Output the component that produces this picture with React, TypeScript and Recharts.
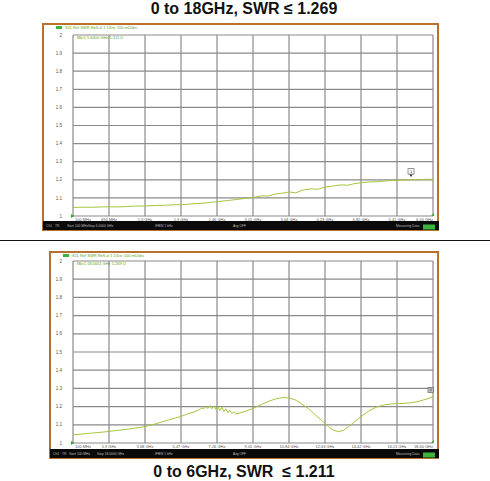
import React from 'react';
import { LineChart, Line, XAxis, YAxis, CartesianGrid, ReferenceDot } from 'recharts';

// ---------- data ----------
const topFreq = [0.10, 0.25, 0.40, 0.55, 0.69, 0.85, 1.00, 1.15, 1.30, 1.45, 1.60, 1.75, 1.90, 2.05, 2.20, 2.35, 2.49, 2.65, 2.80, 2.95, 3.08, 3.20, 3.30, 3.41, 3.55, 3.64, 3.75, 3.85, 4.00, 4.12, 4.23, 4.35, 4.50, 4.60, 4.70, 4.82, 4.95, 5.10, 5.20, 5.30, 5.41, 5.50, 5.64, 5.75, 5.88, 6.00];
const topSwr = [1.047, 1.049, 1.048, 1.050, 1.051, 1.050, 1.053, 1.055, 1.056, 1.058, 1.059, 1.062, 1.063, 1.067, 1.070, 1.075, 1.080, 1.086, 1.092, 1.098, 1.104, 1.112, 1.110, 1.121, 1.127, 1.133, 1.128, 1.142, 1.150, 1.148, 1.160, 1.165, 1.172, 1.170, 1.178, 1.184, 1.188, 1.190, 1.193, 1.196, 1.197, 1.199, 1.201, 1.200, 1.203, 1.202];

const bottomFreq = [0.10, 0.60, 1.10, 1.60, 1.90, 2.40, 2.90, 3.40, 3.68, 4.10, 4.50, 4.90, 5.20, 5.47, 5.80, 6.17, 6.40, 6.50, 6.60, 6.70, 6.80, 6.90, 7.00, 7.10, 7.20, 7.30, 7.40, 7.50, 7.60, 7.70, 7.80, 7.90, 8.00, 8.10, 8.20, 8.40, 8.70, 9.05, 9.40, 9.80, 10.20, 10.55, 10.84, 11.20, 11.60, 11.90, 12.20, 12.50, 12.80, 13.05, 13.30, 13.55, 13.80, 14.05, 14.42, 14.80, 15.20, 15.60, 16.00, 16.21, 16.60, 17.00, 17.40, 17.70, 18.00];
const bottomSwr = [1.045, 1.050, 1.055, 1.060, 1.064, 1.070, 1.077, 1.085, 1.090, 1.102, 1.115, 1.128, 1.138, 1.146, 1.160, 1.172, 1.185, 1.192, 1.188, 1.200, 1.190, 1.205, 1.188, 1.203, 1.184, 1.200, 1.178, 1.196, 1.172, 1.188, 1.166, 1.180, 1.162, 1.172, 1.160, 1.165, 1.175, 1.190, 1.208, 1.228, 1.243, 1.250, 1.248, 1.235, 1.205, 1.180, 1.150, 1.120, 1.090, 1.070, 1.062, 1.070, 1.090, 1.112, 1.145, 1.175, 1.198, 1.210, 1.215, 1.216, 1.218, 1.222, 1.232, 1.242, 1.255];

const topTicks = [0.1, 0.69, 1.28, 1.87, 2.46, 3.05, 3.64, 4.23, 4.82, 5.41, 6.0];
const topTickLabels = ['100 MHz', '690 MHz', '1.3 GHz', '1.9 GHz', '2.46 GHz', '3.05 GHz', '3.64 GHz', '4.23 GHz', '4.82 GHz', '5.41 GHz', '6.00 GHz'];
const bottomTicks = [0.1, 1.89, 3.68, 5.47, 7.26, 9.05, 10.84, 12.63, 14.42, 16.21, 18.0];
const bottomTickLabels = ['100 MHz', '1.9 GHz', '3.68 GHz', '5.47 GHz', '7.26 GHz', '9.05 GHz', '10.84 GHz', '12.63 GHz', '14.42 GHz', '16.21 GHz', '18.00 GHz'];
const swrTicks = [1, 1.1, 1.2, 1.3, 1.4, 1.5, 1.6, 1.7, 1.8, 1.9, 2];
const swrTickLabels = ['1', '1.1', '1.2', '1.3', '1.4', '1.5', '1.6', '1.7', '1.8', '1.9', '2'];

const topMarker = { freq: 5.64, swr: 1.201 };
const bottomMarker = { freq: 18.0, swr: 1.255 };

const topTitle = '0 to 18GHz, SWR \u2264 1.269';
const bottomTitle = '0 to 6GHz, SWR  \u2264 1.211';
const headerText = 'S11 Ref SWR RefLvl 1  1/Div 100 mU/div';
const topMarkerText = 'Mkr1 5.6400 GHz  1.211 U';
const bottomMarkerText = 'Mkr1 18.0001 GHz  1.269 U';

const topData = topFreq.map((f, i) => ({ f, v: topSwr[i] }));
const bottomData = bottomFreq.map((f, i) => ({ f, v: bottomSwr[i] }));

const TRACE = '#a3c73c';
const GRID = '#8a8a8a';
const FONT = '"Liberation Sans", Arial, sans-serif';

const makeXTick = (labels: string[]) => (props: any) => {
  const { x, y, index } = props;
  const anchor = index === 0 ? 'start' : index === labels.length - 1 ? 'end' : 'middle';
  return (
    <text x={x + (index === 0 ? 2 : 0)} y={y - 3} fontSize={4} fontFamily={FONT} fill="#555" textAnchor={anchor}>
      {labels[index]}
    </text>
  );
};

const YTick = (props: any) => {
  const { x, y, index } = props;
  return (
    <text x={x - 3} y={y + 1.6} fontSize={4.5} fontFamily={FONT} fill="#555" textAnchor="end">
      {swrTickLabels[index]}
    </text>
  );
};

const MarkerBox = (props: any) => {
  const { cx, cy } = props;
  return (
    <g>
      <rect x={cx - 3} y={cy - 11} width={6} height={5.5} fill="#fff" stroke="#777" strokeWidth={0.8} />
      <text x={cx} y={cy - 6.8} fontSize={4} fontFamily={FONT} textAnchor="middle" fill="#333">1</text>
      <path d={`M${cx - 1.5},${cy - 5} L${cx + 1.5},${cy - 5} L${cx},${cy - 2.5} Z`} fill="#222" />
    </g>
  );
};

const MarkerBoxEnd = (props: any) => {
  const { cx, cy } = props;
  return (
    <g>
      <rect x={cx - 5} y={cy - 9} width={5.5} height={5} fill="#bbb" stroke="#777" strokeWidth={0.8} />
      <text x={cx - 2.2} y={cy - 5.2} fontSize={4} fontFamily={FONT} textAnchor="middle" fill="#333">1</text>
    </g>
  );
};

const RefArrow = (props: any) => {
  const { cx, cy } = props;
  return <path d={`M${cx - 2},${cy - 2} L${cx + 1.5},${cy} L${cx - 2},${cy + 2} Z`} fill="#2fb02f" />;
};

const EndMark = (props: any) => {
  const { cx, cy } = props;
  return <path d={`M${cx - 2},${cy} L${cx + 1},${cy - 3} L${cx + 1},${cy} Z`} fill="#2fb02f" />;
};

interface PanelProps {
  data: { f: number; v: number }[];
  ticks: number[];
  tickLabels: string[];
  width: number;
  height: number;
  top: number;
  left: number;
  marginTop: number;
  yWidth: number;
  xHeight: number;
  marker: { freq: number; swr: number };
  endMarker?: boolean;
}

function Panel(p: PanelProps) {
  return (
    <div style={{ position: 'absolute', left: p.left, top: p.top }}>
      <LineChart width={p.width} height={p.height} data={p.data} margin={{ top: p.marginTop, right: 6, left: 0, bottom: 0 }}>
        <CartesianGrid stroke={GRID} strokeWidth={1.2} />
        <XAxis
          dataKey="f"
          type="number"
          domain={[p.ticks[0], p.ticks[p.ticks.length - 1]]}
          ticks={p.ticks}
          interval={0}
          height={p.xHeight}
          axisLine={false}
          tickLine={false}
          tick={makeXTick(p.tickLabels)}
        />
        <YAxis
          type="number"
          domain={[1, 2]}
          ticks={swrTicks}
          interval={0}
          width={p.yWidth}
          axisLine={false}
          tickLine={false}
          tick={YTick}
        />
        <Line type="linear" dataKey="v" stroke={TRACE} strokeWidth={1} dot={false} isAnimationActive={false} />
        <ReferenceDot x={p.ticks[0]} y={1} r={2} shape={RefArrow} ifOverflow="visible" />
        <ReferenceDot x={p.ticks[p.ticks.length - 1]} y={1} r={2} shape={EndMark} ifOverflow="visible" />
        <ReferenceDot x={p.marker.freq} y={p.marker.swr} r={2} shape={p.endMarker ? MarkerBoxEnd : MarkerBox} ifOverflow="visible" />
      </LineChart>
    </div>
  );
}

function Frame({ x, y, w, h, barY, stopText, stopX, startX, markerText, markerY }: any) {
  return (
    <g>
      <rect x={x} y={y} width={w} height={h} fill="#fff" stroke="#b8702e" strokeWidth={2} />
      <rect x={x + 13} y={y + 2} width={6} height={3} fill="#3cb43c" />
      <text x={x + 22} y={y + 5} fontSize={4} fill="#5aa020" fontFamily={FONT}>{headerText}</text>
      <text x={77} y={markerY} fontSize={4} fill="#5aa020" fontFamily={FONT}>{markerText}</text>
      <rect x={x} y={barY} width={w + 1} height={9} fill="#0a0a0a" />
      <g fontSize={3.3} fill="#bbb" fontFamily={FONT}>
        <text x={x + 3} y={barY + 5.6}>Ch1</text>
        <text x={x + 12} y={barY + 5.6}>TR</text>
        <text x={startX} y={barY + 5.6}>Start 100 MHz</text>
        <text x={stopX} y={barY + 5.6}>{stopText}</text>
        <text x={155} y={barY + 5.6}>IFBW 1 kHz</text>
        <text x={233} y={barY + 5.6}>Avg OFF</text>
        <text x={396} y={barY + 5.6}>Measuring Data</text>
      </g>
      <rect x={423} y={barY + 3.5} width={12} height={5} fill="#3cb43c" />
    </g>
  );
}

export default function App() {
  return (
    <div style={{ position: 'absolute', left: 0, top: 0, width: 490, height: 481, background: '#fff', overflow: 'hidden' }}>
      <svg width={490} height={481} style={{ position: 'absolute', left: 0, top: 0 }}>
        <text x={244} y={14} textAnchor="middle" fontSize={16} fontWeight="bold" fontFamily={FONT} fill="#111">{topTitle}</text>
        <line x1={0} y1={240.5} x2={490} y2={240.5} stroke="#111" strokeWidth={1} />
        <Frame x={43} y={24} w={395} h={206} barY={221} startX={67} stopX={88} stopText="Stop 6.0000 GHz" markerText={topMarkerText} markerY={39} />
        <Frame x={50} y={252} w={388} h={206} barY={449} startX={69} stopX={97} stopText="Stop 18.0000 GHz" markerText={bottomMarkerText} markerY={265} />
        <text x={244} y={477} textAnchor="middle" fontSize={16} fontWeight="bold" fontFamily={FONT} fill="#111" style={{ whiteSpace: 'pre' }}>{bottomTitle}</text>
      </svg>
      <Panel data={topData} ticks={topTicks} tickLabels={topTickLabels} left={43} top={24} width={396} height={206}
        marginTop={11} yWidth={30} xHeight={14} marker={topMarker} />
      <Panel data={bottomData} ticks={bottomTicks} tickLabels={bottomTickLabels} left={50} top={252} width={389} height={206}
        marginTop={9} yWidth={23} xHeight={15} marker={bottomMarker} endMarker />
    </div>
  );
}
